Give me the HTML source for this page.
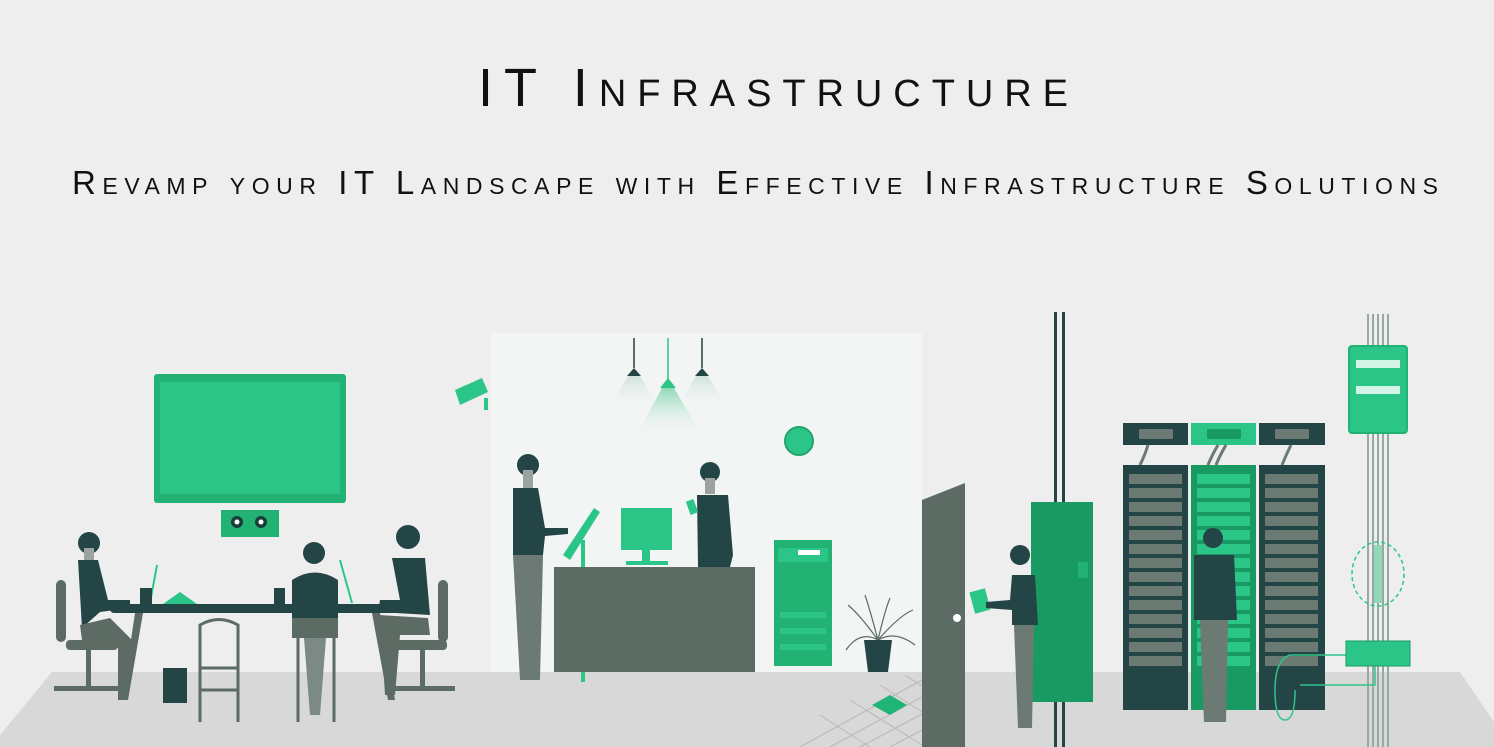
<!DOCTYPE html>
<html><head><meta charset="utf-8"><style>
html,body{margin:0;padding:0;background:#eeeeee;}
svg{display:block}
text{font-family:"Liberation Sans Narrow","Liberation Sans",sans-serif;font-variant:small-caps;fill:#111}
</style></head><body>
<svg width="1494" height="747" viewBox="0 0 1494 747" xmlns="http://www.w3.org/2000/svg">
<rect width="1494" height="747" fill="#eeeeee"/>
<text x="478" y="106" font-size="54" textLength="590" lengthAdjust="spacing">IT Infrastructure</text>
<text x="72" y="194" font-size="33" textLength="1366" lengthAdjust="spacing">Revamp your IT Landscape with Effective Infrastructure Solutions</text>

<!-- floor -->
<polygon points="52,672 1460,672 1494,722 1494,747 0,747 0,735" fill="#d8d8d8"/>
<!-- reception room -->
<rect x="490" y="333" width="432" height="339" fill="#f3f5f5"/>
<!-- floor tiles -->
<g stroke="#b8b8b8" stroke-width="1" fill="none">
<path d="M800,747 L922,680 M830,747 L922,697 M860,747 L922,714 M890,747 L922,730 M850,700 L922,745 M880,685 L922,712 M905,675 L922,686 M820,715 L870,747"/>
</g>
<polygon points="872,705 890,695 907,705 890,715" fill="#1fb577"/>

<!-- monitor -->
<rect x="154" y="374" width="192" height="129" rx="3" fill="#22b374"/>
<rect x="160" y="382" width="180" height="112" fill="#2cc588"/>
<rect x="221" y="510" width="58" height="27" fill="#22b374"/>
<circle cx="237" cy="522" r="6" fill="#1a3f3a"/><circle cx="261" cy="522" r="6" fill="#1a3f3a"/>
<circle cx="237" cy="522" r="2.5" fill="#fff"/><circle cx="261" cy="522" r="2.5" fill="#fff"/>

<!-- left chair -->
<g fill="#5c6b63">
<rect x="56" y="580" width="10" height="62" rx="5"/>
<rect x="66" y="640" width="52" height="10" rx="4"/>
<rect x="86" y="650" width="5" height="38"/>
<rect x="54" y="686" width="68" height="5"/>
</g>
<!-- woman left -->
<circle cx="89" cy="543" r="11" fill="#234545"/>
<rect x="84" y="548" width="10" height="12" fill="#9aa3a0"/>
<path d="M78,560 L98,560 L108,600 L130,600 L130,608 L100,612 L82,628 Z" fill="#234545"/>
<path d="M80,625 L110,618 L132,640 L128,700 L118,700 L118,648 L82,640 Z" fill="#5c6b63"/>
<!-- table -->
<rect x="110" y="604" width="288" height="9" rx="4" fill="#234545"/>
<path d="M135,613 L143,613 L128,700 L122,700 Z M372,613 L380,613 L395,700 L388,700 Z" fill="#5c6b63"/>
<path d="M150,603 L157,565" stroke="#2cc588" stroke-width="2"/>
<rect x="140" y="588" width="12" height="16" fill="#234545"/>
<polygon points="163,604 180,592 197,604" fill="#2cc588"/>
<rect x="274" y="588" width="11" height="16" fill="#234545"/>
<path d="M340,560 L352,603" stroke="#2cc588" stroke-width="2"/>
<!-- trash -->
<rect x="163" y="668" width="24" height="35" fill="#234545"/>
<!-- folding chair -->
<g fill="none" stroke="#5c6b63" stroke-width="3">
<path d="M200,722 L200,625 Q219,614 238,625 L238,722 M200,668 L238,668 M200,690 L238,690"/>
</g>
<!-- middle person -->
<circle cx="314" cy="553" r="11" fill="#234545"/>
<path d="M292,580 Q315,565 338,580 L338,622 L292,622 Z" fill="#234545"/>
<rect x="292" y="618" width="46" height="20" fill="#5c6b63"/>
<path d="M298,625 L298,722 M334,625 L334,722" stroke="#5c6b63" stroke-width="3"/>
<path d="M304,638 L326,638 L320,715 L310,715 Z" fill="#7b8a84"/>
<!-- right man -->
<circle cx="408" cy="537" r="12" fill="#234545"/>
<path d="M392,558 L425,558 L430,615 L378,612 L380,600 L400,600 Z" fill="#234545"/>
<path d="M380,615 L428,618 L430,635 L400,635 L395,695 L385,695 Z" fill="#5c6b63"/>
<!-- right chair -->
<g fill="#5c6b63">
<rect x="438" y="580" width="10" height="62" rx="5"/>
<rect x="395" y="640" width="52" height="10" rx="4"/>
<rect x="420" y="650" width="5" height="38"/>
<rect x="385" y="686" width="70" height="5"/>
</g>

<!-- camera -->
<g fill="#2cc588"><polygon points="455,390 482,378 488,392 460,405"/><rect x="484" y="398" width="4" height="12"/></g>

<!-- lamps -->
<defs><linearGradient id="lg" x1="0" y1="0" x2="0" y2="1"><stop offset="0" stop-color="#cfe3dc"/><stop offset="1" stop-color="#f3f5f5" stop-opacity="0"/></linearGradient>
<linearGradient id="lg2" x1="0" y1="0" x2="0" y2="1"><stop offset="0" stop-color="#8fd9b8"/><stop offset="1" stop-color="#f3f5f5" stop-opacity="0"/></linearGradient></defs>
<polygon points="628,376 640,376 660,410 608,410" fill="url(#lg)"/>
<polygon points="696,376 708,376 728,410 676,410" fill="url(#lg)"/>
<polygon points="662,388 674,388 702,436 636,436" fill="url(#lg2)"/>
<path d="M634,338 V368 M702,338 V368" stroke="#234545" stroke-width="1.5"/>
<path d="M668,338 V380" stroke="#2cc588" stroke-width="1.5"/>
<polygon points="627,376 634,368 641,376" fill="#234545"/>
<polygon points="695,376 702,368 709,376" fill="#234545"/>
<polygon points="660,388 668,378 676,388" fill="#2cc588"/>

<!-- standing man -->
<circle cx="528" cy="465" r="11" fill="#234545"/>
<rect x="523" y="470" width="10" height="18" fill="#9aa3a0"/>
<path d="M513,488 L538,488 L545,528 L568,528 L568,534 L545,536 L543,555 L513,555 Z" fill="#234545"/>
<path d="M513,555 L543,555 L540,680 L520,680 Z" fill="#6b7a73"/>
<!-- kiosk -->
<polygon points="563,555 594,508 600,512 570,560" fill="#2cc588"/>
<rect x="581" y="540" width="4" height="142" fill="#2cc588"/>
<!-- counter -->
<rect x="554" y="567" width="201" height="105" fill="#5c6b63"/>
<rect x="621" y="508" width="51" height="42" fill="#2cc588"/>
<rect x="642" y="548" width="8" height="14" fill="#2cc588"/><rect x="626" y="561" width="42" height="4" fill="#2cc588"/>
<!-- receptionist -->
<circle cx="710" cy="472" r="10" fill="#234545"/>
<rect x="705" y="478" width="10" height="16" fill="#9aa3a0"/>
<path d="M697,495 L728,495 L733,555 L730,567 L698,567 Z" fill="#234545"/>
<rect x="688" y="500" width="8" height="14" fill="#2cc588" transform="rotate(-20 692 507)"/>
<!-- clock -->
<circle cx="799" cy="441" r="14" fill="#2cc588" stroke="#20a56c" stroke-width="2"/>
<!-- printer -->
<rect x="774" y="540" width="58" height="126" fill="#22b374"/>
<rect x="778" y="548" width="50" height="14" fill="#2cc588"/>
<rect x="798" y="550" width="22" height="5" fill="#fff"/>
<rect x="780" y="612" width="46" height="6" fill="#2cc588"/><rect x="780" y="628" width="46" height="6" fill="#2cc588"/><rect x="780" y="644" width="46" height="6" fill="#2cc588"/>
<!-- plant -->
<g stroke="#5c6b63" stroke-width="1.2" fill="none">
<path d="M878,640 Q860,615 848,605 M878,640 Q870,610 865,595 M878,640 Q885,610 890,598 M878,640 Q900,615 913,610 M878,640 Q895,630 915,645 M878,640 Q860,630 846,650"/>
</g>
<polygon points="864,640 892,640 888,672 868,672" fill="#234545"/>
<!-- door -->
<polygon points="922,500 965,483 965,747 922,747" fill="#5c6b63"/>
<circle cx="957" cy="618" r="4" fill="#fff"/>
<!-- pipes -->
<rect x="1054" y="312" width="3" height="435" fill="#234545"/>
<rect x="1062" y="312" width="3" height="435" fill="#234545"/>
<!-- green cabinet -->
<rect x="1031" y="502" width="62" height="200" fill="#1a9a63"/>
<rect x="1078" y="562" width="10" height="16" fill="#22b374"/>
<!-- person at door -->
<rect x="972" y="590" width="16" height="22" fill="#2cc588" transform="rotate(-15 980 601)"/>
<circle cx="1020" cy="555" r="10" fill="#234545"/>
<path d="M1012,575 L1035,575 L1038,625 L1012,625 L1012,610 L986,608 L986,602 L1010,600 Z" fill="#234545"/>
<path d="M1014,625 L1034,625 L1032,728 L1018,728 Z" fill="#6b7a73"/>
<!-- racks -->
<g>
<rect x="1123" y="423" width="65" height="22" fill="#234545"/><rect x="1139" y="429" width="34" height="10" fill="#6b7a73"/>
<rect x="1191" y="423" width="65" height="22" fill="#2cc588"/><rect x="1207" y="429" width="34" height="10" fill="#1a9a63"/>
<rect x="1259" y="423" width="66" height="22" fill="#234545"/><rect x="1275" y="429" width="34" height="10" fill="#6b7a73"/>
<path d="M1148,445 Q1145,455 1140,465 M1218,445 Q1212,455 1208,465 M1226,445 Q1220,455 1216,465 M1291,445 Q1286,455 1282,465" stroke="#6b7a73" stroke-width="3" fill="none"/>
<rect x="1123" y="465" width="65" height="245" fill="#234545"/>
<rect x="1191" y="465" width="65" height="245" fill="#1a9a63"/>
<rect x="1259" y="465" width="66" height="245" fill="#234545"/>
</g>
<g fill="#6b7a73">
<rect x="1129" y="474" width="53" height="10"/><rect x="1129" y="488" width="53" height="10"/><rect x="1129" y="502" width="53" height="10"/><rect x="1129" y="516" width="53" height="10"/><rect x="1129" y="530" width="53" height="10"/><rect x="1129" y="544" width="53" height="10"/><rect x="1129" y="558" width="53" height="10"/><rect x="1129" y="572" width="53" height="10"/><rect x="1129" y="586" width="53" height="10"/><rect x="1129" y="600" width="53" height="10"/><rect x="1129" y="614" width="53" height="10"/><rect x="1129" y="628" width="53" height="10"/><rect x="1129" y="642" width="53" height="10"/><rect x="1129" y="656" width="53" height="10"/>
<rect x="1265" y="474" width="53" height="10"/><rect x="1265" y="488" width="53" height="10"/><rect x="1265" y="502" width="53" height="10"/><rect x="1265" y="516" width="53" height="10"/><rect x="1265" y="530" width="53" height="10"/><rect x="1265" y="544" width="53" height="10"/><rect x="1265" y="558" width="53" height="10"/><rect x="1265" y="572" width="53" height="10"/><rect x="1265" y="586" width="53" height="10"/><rect x="1265" y="600" width="53" height="10"/><rect x="1265" y="614" width="53" height="10"/><rect x="1265" y="628" width="53" height="10"/><rect x="1265" y="642" width="53" height="10"/><rect x="1265" y="656" width="53" height="10"/>
</g>
<g fill="#2cc588">
<rect x="1197" y="474" width="53" height="10"/><rect x="1197" y="488" width="53" height="10"/><rect x="1197" y="502" width="53" height="10"/><rect x="1197" y="516" width="53" height="10"/><rect x="1197" y="530" width="53" height="10"/><rect x="1197" y="544" width="53" height="10"/><rect x="1197" y="558" width="53" height="10"/><rect x="1197" y="572" width="53" height="10"/><rect x="1197" y="586" width="53" height="10"/><rect x="1197" y="600" width="53" height="10"/><rect x="1197" y="614" width="53" height="10"/><rect x="1197" y="628" width="53" height="10"/><rect x="1197" y="642" width="53" height="10"/><rect x="1197" y="656" width="53" height="10"/>
</g>
<!-- person at rack -->
<circle cx="1213" cy="538" r="10" fill="#234545"/>
<path d="M1194,555 L1234,555 L1237,620 L1194,620 Z" fill="#234545"/>
<path d="M1200,620 L1228,620 L1226,722 L1204,722 Z" fill="#6b7a73"/>
<!-- right pole -->
<g fill="#98a8a2"><rect x="1367" y="314" width="2" height="433"/><rect x="1372" y="314" width="2" height="433"/><rect x="1377" y="314" width="2" height="433"/><rect x="1382" y="314" width="2" height="433"/><rect x="1387" y="314" width="2" height="433"/></g>
<rect x="1349" y="346" width="58" height="87" rx="3" fill="#2cc588" stroke="#22b374" stroke-width="2"/>
<rect x="1356" y="360" width="44" height="8" fill="#fff" opacity="0.8"/><rect x="1356" y="386" width="44" height="8" fill="#fff" opacity="0.8"/>
<ellipse cx="1378" cy="574" rx="26" ry="32" fill="none" stroke="#2cc588" stroke-width="1.5" stroke-dasharray="4 3"/>
<rect x="1374" y="545" width="8" height="58" fill="#8fd9b8"/>
<path d="M1346,655 L1290,655 Q1275,660 1275,690 Q1275,720 1285,720 Q1295,720 1295,690 L1295,690 M1375,666 L1375,685 L1300,685" stroke="#2cc588" stroke-width="1.5" fill="none"/>
<rect x="1346" y="641" width="64" height="25" fill="#2cc588" stroke="#1a9a63" stroke-width="1"/>
</svg>
</body></html>
